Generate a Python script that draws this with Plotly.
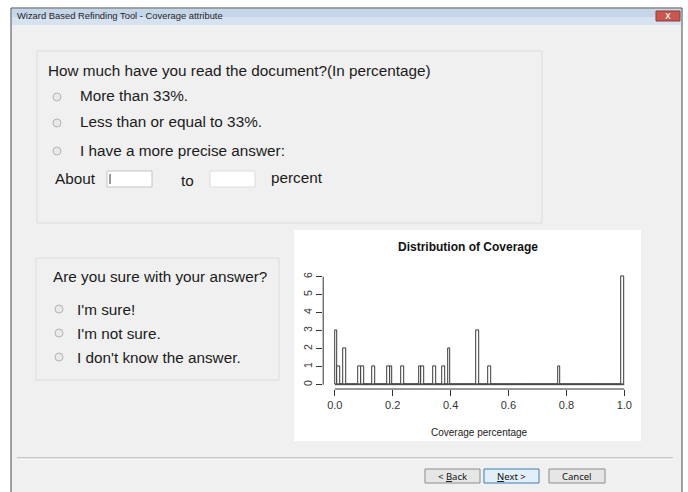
import plotly.graph_objects as go

W, H = 688, 492

# histogram of coverage, bin width 0.01 (lower edges of the non-empty bins)
bin_lefts = [0.00, 0.01, 0.03, 0.08, 0.09, 0.13, 0.18, 0.19, 0.23, 0.29, 0.30,
             0.34, 0.37, 0.39, 0.49, 0.53, 0.77, 0.99]
bin_counts = [3, 1, 2, 1, 1, 1, 1, 1, 1, 1, 1, 1, 1, 2, 3, 1, 1, 6]
bin_width = 0.01
x_ticks = [0.0, 0.2, 0.4, 0.6, 0.8, 1.0]
y_ticks = [0, 1, 2, 3, 4, 5, 6]

window_title = "Wizard Based Refinding Tool - Coverage attribute"
read_question = "How much have you read the document?(In percentage)"
read_options = ["More than 33%.", "Less than or equal to 33%.", "I have a more precise answer:"]
sure_question = "Are you sure with your answer?"
sure_options = ["I'm sure!", "I'm not sure.", "I don't know the answer."]
button_labels = ["< <u>B</u>ack", "<u>N</u>ext >", "Cancel"]

UI_FONT = "Liberation Sans, Arial, sans-serif"
UI_SIZE = 15.3


def px(x):
    return x / W


def py(y):
    return 1 - y / H


def rect(x0, y0, x1, y1, fill, line="rgba(0,0,0,0)", width=1, layer="below", kind="rect"):
    return dict(type=kind, xref="paper", yref="paper",
                x0=px(x0), x1=px(x1), y0=py(y1), y1=py(y0),
                fillcolor=fill, line=dict(color=line, width=width), layer=layer)


def hline(x0, x1, y, color, width=1):
    return dict(type="line", xref="paper", yref="paper", x0=px(x0), x1=px(x1),
                y0=py(y), y1=py(y), line=dict(color=color, width=width), layer="below")


def vline(x, y0, y1, color, width=1):
    return dict(type="line", xref="paper", yref="paper", x0=px(x), x1=px(x),
                y0=py(y0), y1=py(y1), line=dict(color=color, width=width), layer="below")


def label(x, y, s, size=UI_SIZE, color="#1b1b1b", font=UI_FONT, xanchor="left"):
    return dict(xref="paper", yref="paper", x=px(x), y=py(y), text=s, showarrow=False,
                xanchor=xanchor, yanchor="middle", font=dict(family=font, size=size, color=color))


shapes = []
annotations = []

# window frame, title bar and client area
shapes.append(rect(11, 8, 682, 494, "#f0f0f0", "#3f4a52"))
shapes.append(rect(12, 9, 681, 17, "#c6d6ea"))
shapes.append(rect(12, 17, 681, 25, "#d6e2f0"))
shapes.append(rect(656, 11, 680, 21, "#c9574f", "#8e3a36"))
annotations.append(label(668, 15.5, "x", size=10, color="white", font="DejaVu Sans", xanchor="center"))
annotations.append(label(15, 16, window_title, size=9.4, color="#1e1e1e",
                         font="Liberation Sans Narrow, Liberation Sans, sans-serif"))

# first panel
shapes.append(rect(37, 51, 542, 223, "#f0f0f0", "#dcdcdc"))
annotations.append(label(46, 71, read_question))
for opt, yy in zip(read_options, [97, 123, 151]):
    shapes.append(rect(53, yy - 4, 61, yy + 4, "#e8e8e8", "#b4b4b4", kind="circle"))
    annotations.append(label(78, yy - 1, opt))
annotations.append(label(53, 179, "About"))
shapes.append(rect(107, 171, 152, 187, "white", "#c4c4c4"))
shapes.append(vline(110, 174, 184, "#333333"))
annotations.append(label(179, 180, "to"))
shapes.append(rect(210, 171, 255, 187, "white", "#dcdcdc"))
annotations.append(label(269, 177, "percent"))

# second panel
shapes.append(rect(36, 258, 279, 380, "#f0f0f0", "#dcdcdc"))
annotations.append(label(51, 276, sure_question))
for opt, yy in zip(sure_options, [309, 333, 357]):
    shapes.append(rect(55, yy - 4, 63, yy + 4, "#e8e8e8", "#b4b4b4", kind="circle"))
    annotations.append(label(75, yy, opt))

# image area of the histogram
shapes.append(rect(294, 230, 641, 441, "white"))

# bottom separator and buttons
shapes.append(hline(17, 673, 458, "#a0a0a0"))
shapes.append(hline(17, 673, 459, "#ffffff"))
for (x0, x1), txt in zip([(425, 480), (484, 539), (549, 605)], button_labels):
    nxt = txt.startswith("<u>N")
    shapes.append(rect(x0, 469, x1, 483, "#e2eef9" if nxt else "#e6e6e6",
                       "#3c7fb1" if nxt else "#8c8c8c"))
    annotations.append(label((x0 + x1) / 2, 476, txt, size=9.5, color="#111111",
                             font="Noto Sans, sans-serif", xanchor="center"))

# histogram
full_lefts = [round(i * bin_width, 2) for i in range(100)]
full_counts = [0] * 100
for left, c in zip(bin_lefts, bin_counts):
    full_counts[int(round(left / bin_width))] = c

fig = go.Figure(go.Bar(
    x=[l + bin_width / 2 for l in full_lefts],
    y=full_counts,
    width=bin_width,
    marker=dict(color="white", line=dict(color="#3c3c3c", width=1)),
    hoverinfo="skip",
))

PLOT_FONT = "Liberation Sans, Arial, sans-serif"
# R style axes: lines only between first and last ticks, empty bins drawn on the baseline
shapes.append(dict(type="line", xref="x", yref="y domain", x0=x_ticks[0], x1=x_ticks[-1],
                   y0=0, y1=0, line=dict(color="#333333", width=1), layer="above"))
shapes.append(dict(type="line", xref="x domain", yref="y", x0=0, x1=0, y0=y_ticks[0],
                   y1=y_ticks[-1], line=dict(color="#333333", width=1), layer="above"))
shapes.append(dict(type="line", xref="x", yref="y", x0=full_lefts[0], x1=full_lefts[-1] + bin_width,
                   y0=0, y1=0, line=dict(color="#3c3c3c", width=1), layer="above"))

annotations.append(label(468, 247, "<b>Distribution of Coverage</b>", size=12, color="#111111",
                         font=PLOT_FONT, xanchor="center"))
annotations.append(label(479, 432, "Coverage percentage", size=10, color="#222222",
                         font=PLOT_FONT, xanchor="center"))

fig.update_layout(
    width=W, height=H,
    margin=dict(l=0, r=0, t=0, b=0),
    paper_bgcolor="white",
    plot_bgcolor="rgba(0,0,0,0)",
    showlegend=False,
    bargap=0,
    shapes=shapes,
    annotations=annotations,
    xaxis=dict(domain=[px(323.2), px(635.9)], range=[-0.04, 1.04],
               tickvals=x_ticks, ticktext=[f"{t:.1f}" for t in x_ticks],
               ticks="outside", ticklen=6, tickcolor="#333333",
               showgrid=False, zeroline=False, showline=False,
               tickfont=dict(family=PLOT_FONT, size=11, color="#333333")),
    yaxis=dict(domain=[py(389), py(272.4)], range=[-0.24, 6.24],
               tickvals=y_ticks, tickangle=-90,
               ticks="outside", ticklen=6, tickcolor="#333333",
               showgrid=False, zeroline=False, showline=False,
               tickfont=dict(family=PLOT_FONT, size=10.5, color="#333333")),
)

# the page body has a default 8px margin; drop it so the figure sits at the window origin
fig.write_html("out.html", config={"displayModeBar": False},
               post_script="document.body.style.margin='0';")
